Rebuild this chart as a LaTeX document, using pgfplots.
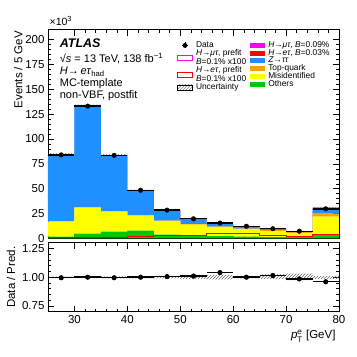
\documentclass[border=0pt]{standalone}
\usepackage{amsmath}
\usepackage{fontspec}
\setmainfont{Liberation Sans}
\usepackage{pgfplots}
\usepackage{pgfplotstable}
\pgfplotsset{compat=1.18}
\usepgfplotslibrary{fillbetween}
\usetikzlibrary{patterns}

\definecolor{zblue}{RGB}{30,144,255}
\definecolor{topor}{RGB}{255,160,0}
\definecolor{misyel}{RGB}{255,255,0}
\definecolor{othgrn}{RGB}{0,200,0}
\definecolor{hetred}{RGB}{255,0,0}
\definecolor{hmtmag}{RGB}{255,0,255}

\newcommand{\tickfont}{\fontsize{11.5}{13}\selectfont}
\newcommand{\legfont}{\fontsize{8.4}{9.2}\selectfont}

% ratio data / pred
\pgfplotstableread{
x    r      ex
27.5 0.995  2.5
32.5 1.000  2.5
37.5 0.995  2.5
42.5 1.000  2.5
47.5 1.005  2.5
52.5 1.010  2.5
57.5 1.040  2.5
62.5 1.000  2.5
67.5 1.015  2.5
72.5 0.985  2.5
77.5 0.960  2.5
}\ratiotab

\pgfplotsset{
  atlas/.style={
    scale only axis, width=291pt, xmin=25, xmax=80,
    tick align=inside, major tick length=6pt, minor tick length=3pt,
    xtick={30,40,...,80}, minor x tick num=4,
    tick style={black, line width=0.5pt},
    every tick label/.append style={font=\tickfont},
    label style={font=\tickfont},
    /pgf/number format/assume math mode=true,
    axis line style={line width=0.7pt},
  },
  boxleg/.style={legend image code/.code={
    \fill[##1] (0pt,-2.6pt) rectangle (15pt,2.6pt);}},
}

\begin{document}
\begin{tikzpicture}

% ---- stacked backgrounds ----
\begin{axis}[atlas, at={(48pt,118.5pt)}, anchor=south west, height=209pt,
    ymin=0, ymax=210, hide axis, stack plots=y,
    legend style={draw=none, fill=none, font=\legfont, at={(0.694,0.945)},
      anchor=north west, row sep=-0.9pt, column sep=2.5pt, inner sep=0pt,
      nodes={inner sep=0.6pt}},
    legend cell align=left, reverse legend]
\addplot[const plot, fill=othgrn, draw=none, boxleg] coordinates {
 (25,2) (30,5) (35,7) (40,8) (45,4) (50,3) (55,2.5) (60,2) (65,1.5) (70,1.5) (75,4) (80,4)} \closedcycle;
\addlegendentry{Others}
\addplot[const plot, fill=misyel, draw=none, boxleg] coordinates {
 (25,15) (30,26) (35,20) (40,15) (45,13.5) (50,11) (55,9) (60,7.5) (65,6) (70,4) (75,18) (80,18)} \closedcycle;
\addlegendentry{Misidentified}
\addplot[const plot, fill=topor, draw=none, boxleg] coordinates {
 (25,0.3) (30,0.5) (35,0.5) (40,0.5) (45,0.5) (50,0.5) (55,0.5) (60,0.5) (65,0.8) (70,1) (75,3) (80,3)} \closedcycle;
\addlegendentry{Top-quark}
\addplot[const plot, fill=zblue, draw=none, boxleg] coordinates {
 (25,66.7) (30,100.9) (35,56.0) (40,24.7) (45,10.1) (50,4.9) (55,2.6) (60,2.0) (65,1.15) (70,0.7) (75,5.7) (80,5.7)} \closedcycle;
\addlegendentry{\textit{Z}→\textit{ττ}}
\addplot[const plot, fill=hetred, draw=none, boxleg] coordinates {
 (25,0.1) (30,0.1) (35,0.1) (40,0.1) (45,0.1) (50,0.1) (55,0.2) (60,0.2) (65,0.1) (70,0.1) (75,0.1) (80,0.1)} \closedcycle;
\addlegendentry{\textit{H}→\textit{eτ}, \textit{B}=0.03\%}
\addplot[const plot, fill=hmtmag, draw=none, boxleg] coordinates {
 (25,0.3) (30,0.5) (35,0.3) (40,0.2) (45,0.2) (50,0.1) (55,0.1) (60,0.1) (65,0.1) (70,0.1) (75,0.2) (80,0.2)} \closedcycle;
\addlegendentry{\textit{H}→\textit{μτ}, \textit{B}=0.09\%}
\end{axis}

% ---- main overlay ----
\begin{axis}[atlas, at={(48pt,118.5pt)}, anchor=south west, height=209pt,
    ymin=0, ymax=210, ytick={0,25,...,200}, minor y tick num=4,
    xticklabels={}, clip mode=individual,
    ylabel={Events / 5 GeV},
    ylabel style={at={(rel axis cs:0,1)}, anchor=south east, yshift=22pt, xshift=2pt},
    legend style={draw=none, fill=none, font=\legfont, at={(0.443,0.945)},
      anchor=north west, row sep=-0.9pt, column sep=2.5pt, inner sep=0pt,
      nodes={inner sep=0.6pt, align=left}},
    legend cell align=left]
% uncertainty band
\addplot[const plot, draw=none, name path=up, forget plot] coordinates {
 (25,85.7) (30,134.6) (35,85.0) (40,49.2) (45,28.9) (50,20.0) (55,15.3) (60,12.6) (65,9.9) (70,7.7) (75,31.6) (80,31.6)};
\addplot[const plot, draw=none, name path=lo, forget plot] coordinates {
 (25,83.1) (30,131.4) (35,82.8) (40,47.8) (45,27.9) (50,19.2) (55,14.5) (60,12.0) (65,9.4) (70,7.1) (75,30.4) (80,30.4)};
\addplot[pattern=north east lines, pattern color=gray, draw=none, forget plot]
  fill between[of=up and lo];
% H->etau prefit x100
\addplot[const plot, hetred, line width=0.8pt, forget plot] coordinates {
 (25,0.8) (30,1) (35,1.5) (40,2) (45,3) (50,3.5) (55,5) (60,5) (65,3) (70,2) (75,4) (80,4)};
% data
\addplot[only marks, mark=*, mark size=2.3pt, black, forget plot,
   error bars/.cd, x dir=both, x explicit,
   error bar style={line width=1.4pt}, error mark=none]
 coordinates {
 (27.5,84) +- (2.5,0) (32.5,133) +- (2.5,0) (37.5,83.5) +- (2.5,0)
 (42.5,48.5) +- (2.5,0) (47.5,28.5) +- (2.5,0) (52.5,19.8) +- (2.5,0)
 (57.5,15.5) +- (2.5,0) (62.5,12.3) +- (2.5,0) (67.5,9.8) +- (2.5,0)
 (72.5,7.3) +- (2.5,0) (77.5,29.8) +- (2.5,0)};
\addlegendimage{legend image code/.code={
  \draw[black, line width=1pt] (4.5pt,0)--(10.5pt,0);
  \draw[black, line width=1pt] (7.5pt,-3pt)--(7.5pt,3pt);
  \fill[black] (7.5pt,0) circle (2.2pt);}}
\addlegendentry{Data}
\addlegendimage{legend image code/.code={
  \draw[hmtmag, line width=0.8pt] (0pt,-2.5pt) rectangle (15pt,2.5pt);}}
\addlegendentry{\textit{H}→\textit{μτ}, prefit\\\textit{B}=0.1\% x100}
\addlegendimage{legend image code/.code={
  \draw[hetred, line width=0.8pt] (0pt,-2.5pt) rectangle (15pt,2.5pt);}}
\addlegendentry{\textit{H}→\textit{eτ}, prefit\\\textit{B}=0.1\% x100}
\addlegendimage{legend image code/.code={
  \path[pattern=north east lines, pattern color=gray] (0pt,-2.5pt) rectangle (15pt,2.5pt);}}
\addlegendentry{Uncertainty}

\node[anchor=south west, inner sep=0pt, font=\fontsize{10.5}{12}\selectfont]
  at (rel axis cs:0.005,1.02) {×10\textsuperscript{3}};
\node[anchor=north west, inner sep=0pt, font=\fontsize{12.5}{14}\bfseries\itshape]
  at (rel axis cs:0.04,0.957) {ATLAS};
\node[anchor=north west, inner sep=0pt, align=left,
  font=\fontsize{11}{11.8}\selectfont]
  at (rel axis cs:0.04,0.886) {√\textit{s} = 13 TeV, 138 fb\textsuperscript{−1}\\
  \textit{H}→\,\textit{eτ}\textsubscript{had}\\MC-template\\non-VBF, postfit};
\end{axis}

% ---- ratio panel ----
\begin{axis}[atlas, at={(48pt,45.3pt)}, anchor=south west, height=69pt,
    ymin=0.7, ymax=1.3, ytick={0.75,1,1.25}, minor y tick num=4,
    yticklabel style={/pgf/number format/.cd, fixed, fixed zerofill, precision=2},
    ylabel={Data / Pred.},
    xlabel={$\textit{p}^{\textit{e}}_{\text{T}}$ [GeV]},
    xlabel style={at={(rel axis cs:1,0)}, anchor=north east, yshift=-15pt}]
\addplot[only marks, mark=none, black,
   error bars/.cd, x dir=both, x explicit,
   error bar style={line width=1.4pt}, error mark=none]
 table[x=x, y=r, x error=ex] {\ratiotab};
\addplot[const plot, draw=none, name path=rup] coordinates {
 (25,1.005) (30,1.007) (35,1.007) (40,1.01) (45,1.012) (50,1.015) (55,1.02) (60,1.01) (65,1.025) (70,1.03) (75,1.01) (80,1.01)};
\addplot[const plot, draw=none, name path=rlo] coordinates {
 (25,0.993) (30,0.993) (35,0.99) (40,0.99) (45,0.99) (50,0.985) (55,0.98) (60,0.99) (65,0.985) (70,0.975) (75,0.985) (80,0.985)};
\addplot[pattern=north east lines, pattern color=black!60, draw=none]
  fill between[of=rup and rlo];
\addplot[only marks, mark=*, mark size=2.3pt, black]
 table[x=x, y=r] {\ratiotab};
\end{axis}
\path (0,0) rectangle (357pt,357pt);
\end{tikzpicture}
\end{document}
